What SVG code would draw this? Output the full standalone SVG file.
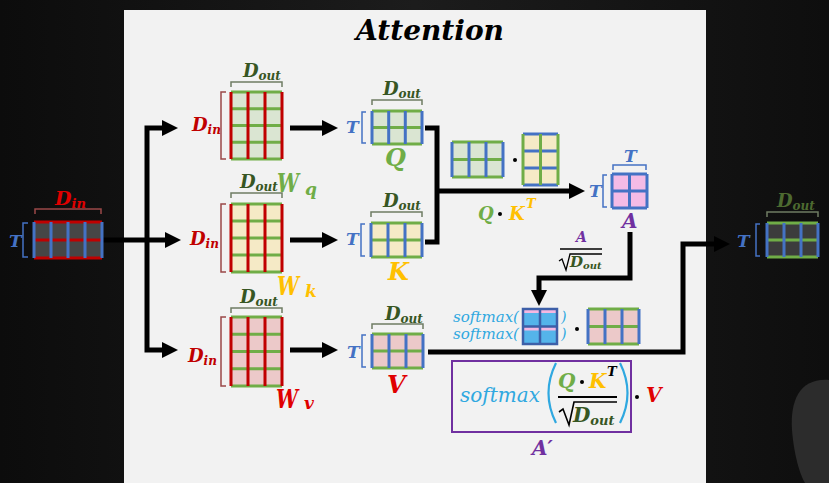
<svg xmlns="http://www.w3.org/2000/svg" width="829" height="483" viewBox="0 0 829 483">
<defs>
<linearGradient id="bg" x1="0" y1="0" x2="1" y2="0">
<stop offset="0" stop-color="#0c0c0c"/><stop offset="0.5" stop-color="#1c1c1c"/><stop offset="1" stop-color="#0e0e0e"/>
</linearGradient>
<marker id="ah" viewBox="0 0 16 16" markerWidth="16" markerHeight="16" refX="0" refY="8" orient="auto-start-reverse" markerUnits="userSpaceOnUse">
<path d="M0,0 L16,8 L0,16 z" fill="#000"/>
</marker>
<style>
.t{font-family:"DejaVu Serif","Liberation Serif",serif;font-weight:bold;font-style:italic}
.s{font-family:"DejaVu Serif","Liberation Serif",serif;font-style:italic;fill:#2fa8e0}
.conn{stroke:#000;stroke-width:5;fill:none;stroke-linejoin:miter}
.mg{fill:#dae5d2}.my{fill:#f5eac6}.mp{fill:#ecc9c9}.ma{fill:#f4bbe6}.md{fill:#464646}
.lr{stroke:#c00000;stroke-width:3;fill:none}
.lgn{stroke:#70ad47;stroke-width:3;fill:none}
.lb{stroke:#4472c4;stroke-width:3;fill:none}
.bo{stroke:#6f7c63;stroke-width:1.5;fill:none}
.bi{stroke:#9a4848;stroke-width:1.5;fill:none}
.bt{stroke:#4472c4;stroke-width:1.5;fill:none}
.red{fill:#c00000}.dg{fill:#375623}.blue{fill:#4472c4}.grn{fill:#70ad47}.yel{fill:#ffc000}.pur{fill:#7030a0}.vr{fill:#e00000}
</style>
</defs>
<rect x="0" y="0" width="829" height="483" fill="url(#bg)"/>
<path d="M829,380 C800,378 790,400 792,430 C794,455 800,475 805,483 L829,483 Z" fill="#2c2c2c"/>
<rect x="124" y="10" width="582" height="473" fill="#f2f2f2"/>
<text class="t" x="430" y="40" font-size="28" text-anchor="middle" fill="#000">Attention</text>

<g id="connectors">
<path class="conn" d="M103,240 H165" marker-end="url(#ah)"/>
<path class="conn" d="M162,128 H147 V350 H162" marker-start="url(#ah)" marker-end="url(#ah)"/>
<path class="conn" d="M290,128 H322" marker-end="url(#ah)"/>
<path class="conn" d="M290,240 H322" marker-end="url(#ah)"/>
<path class="conn" d="M290,350 H322" marker-end="url(#ah)"/>
<path class="conn" d="M425,128 H437 V242 H425"/>
<path class="conn" d="M437,191 H569" marker-end="url(#ah)"/>
<path class="conn" d="M630,232 V278 H539 V290" marker-end="url(#ah)"/>
<path class="conn" d="M428,352 H683 V244 H714" marker-end="url(#ah)"/>
</g>

<g id="input">
<rect x="34" y="222" width="68" height="36" class="md"/>
<path class="lr" stroke="#e00000" d="M34,222H102M34,240H102M34,258H102"/>
<path class="lb" stroke="#5080d0" d="M34,222V258M51,222V258M68,222V258M85,222V258M102,222V258"/>
<path class="bi" stroke="#d00000" d="M35,214V209H101V214"/>
<text class="t" x="55" y="205" font-size="19" fill="#e00000">D<tspan font-size="13" dy="3">in</tspan></text>
<path class="bt" d="M28,223H23V257H28"/>
<text class="t blue" x="9" y="247" font-size="17">T</text>
</g>

<g id="wq">
<rect x="231" y="92" width="51" height="67" class="mg"/>
<path class="lgn" d="M231,92H282M231,108.75H282M231,125.5H282M231,142.25H282M231,159H282"/>
<path class="lr" d="M231,92V159M248,92V159M265,92V159M282,92V159"/>
<path class="bo" d="M231,87V82H282V87"/>
<text class="t dg" x="243" y="77" font-size="18">D<tspan font-size="12" dy="3">out</tspan></text>
<path class="bi" d="M226,92H221V159H226"/>
<text class="t red" x="192" y="131" font-size="18">D<tspan font-size="12" dy="3">in</tspan></text>
<text class="t grn" x="277" y="192" font-size="26" textLength="22" lengthAdjust="spacingAndGlyphs">W</text>
<text class="t grn" x="305" y="195" font-size="17">q</text>
</g>

<g id="wk">
<rect x="231" y="204" width="51" height="68" class="my"/>
<path class="lgn" d="M231,204H282M231,221H282M231,238H282M231,255H282M231,272H282"/>
<path class="lr" d="M231,204V272M248,204V272M265,204V272M282,204V272"/>
<path class="bo" d="M231,198V193H282V198"/>
<text class="t dg" x="240" y="188" font-size="18">D<tspan font-size="12" dy="3">out</tspan></text>
<path class="bi" d="M226,204H221V272H226"/>
<text class="t red" x="190" y="245" font-size="18">D<tspan font-size="12" dy="3">in</tspan></text>
<text class="t yel" x="277" y="295" font-size="26" textLength="22" lengthAdjust="spacingAndGlyphs">W</text>
<text class="t yel" x="305" y="297" font-size="17">k</text>
</g>

<g id="wv">
<rect x="231" y="317" width="51" height="69" class="mp"/>
<path class="lgn" d="M231,317H282M231,334.25H282M231,351.5H282M231,368.75H282M231,386H282"/>
<path class="lr" d="M231,317V386M248,317V386M265,317V386M282,317V386"/>
<path class="bo" d="M231,313V308H282V313"/>
<text class="t dg" x="240" y="303" font-size="18">D<tspan font-size="12" dy="3">out</tspan></text>
<path class="bi" d="M226,317H221V386H226"/>
<text class="t red" x="188" y="362" font-size="18">D<tspan font-size="12" dy="3">in</tspan></text>
<text class="t vr" x="276" y="408" font-size="26" textLength="22" lengthAdjust="spacingAndGlyphs">W</text>
<text class="t vr" x="304" y="409" font-size="17">v</text>
</g>

<g id="q">
<rect x="372" y="111" width="50" height="33" class="mg"/>
<path class="lgn" d="M372,111H422M372,127.5H422M372,144H422"/>
<path class="lb" d="M372,111V144M388.7,111V144M405.3,111V144M422,111V144"/>
<path class="bo" d="M372,105V100H422V105"/>
<text class="t dg" x="383" y="95" font-size="18">D<tspan font-size="12" dy="3">out</tspan></text>
<path class="bt" d="M366,112H362V143H366"/>
<text class="t blue" x="346" y="133" font-size="17">T</text>
<text class="t grn" x="385" y="166" font-size="24">Q</text>
</g>

<g id="k">
<rect x="371" y="223" width="51" height="34" class="my"/>
<path class="lgn" d="M371,223H422M371,240H422M371,257H422"/>
<path class="lb" d="M371,223V257M388,223V257M405,223V257M422,223V257"/>
<path class="bo" d="M371,217V212H422V217"/>
<text class="t dg" x="383" y="207" font-size="18">D<tspan font-size="12" dy="3">out</tspan></text>
<path class="bt" d="M365,224H361V256H365"/>
<text class="t blue" x="346" y="245" font-size="17">T</text>
<text class="t yel" x="388" y="280" font-size="24">K</text>
</g>

<g id="v">
<rect x="372" y="334" width="51" height="34" class="mp"/>
<path class="lgn" d="M372,334H423M372,351H423M372,368H423"/>
<path class="lb" d="M372,334V368M389,334V368M406,334V368M423,334V368"/>
<path class="bo" d="M372,329V324H423V329"/>
<text class="t dg" x="385" y="320" font-size="18">D<tspan font-size="12" dy="3">out</tspan></text>
<path class="bt" d="M366,335H362V367H366"/>
<text class="t blue" x="347" y="358" font-size="17">T</text>
<text class="t vr" x="387" y="393" font-size="24">V</text>
</g>

<g id="qkt">
<rect x="452" y="142" width="51" height="35" class="mg"/>
<path class="lgn" d="M452,142H503M452,159.5H503M452,177H503"/>
<path class="lb" d="M452,142V177M469,142V177M486,142V177M503,142V177"/>
<circle cx="515" cy="160" r="2" fill="#000"/>
<rect x="523" y="134" width="35" height="51" class="my"/>
<path class="lb" d="M523,134H558M523,151H558M523,168H558M523,185H558"/>
<path class="lgn" d="M523,134V185M540.5,134V185M558,134V185"/>
<text class="t grn" x="478" y="220" font-size="18">Q</text>
<circle cx="500" cy="214" r="2" fill="#000"/>
<text class="t yel" x="509" y="220" font-size="18">K</text>
<text class="t yel" x="526" y="208" font-size="13">T</text>
</g>

<g id="a">
<rect x="612" y="174" width="35" height="34" class="ma"/>
<path class="lb" d="M612,174H647M612,191H647M612,208H647M612,174V208M629.5,174V208M647,174V208"/>
<path class="bt" d="M613,170V165H646V170"/>
<text class="t blue" x="624" y="162" font-size="17">T</text>
<path class="bt" d="M607,175H603V207H607"/>
<text class="t blue" x="589" y="197" font-size="17">T</text>
<text class="t pur" x="622" y="228" font-size="20">A</text>
</g>

<g id="scale">
<text class="t pur" x="576" y="242" font-size="14">A</text>
<line x1="560" y1="249" x2="602" y2="249" stroke="#000" stroke-width="1.5"/>
<path d="M559,261 L562,259 L566,270 L570,254 H602" stroke="#000" stroke-width="1.3" fill="none"/>
<text class="t dg" x="570" y="267" font-size="15">D<tspan font-size="10" dy="2">out</tspan></text>
</g>

<g id="softmaxrow">
<text class="s" x="453" y="322" font-size="14" textLength="66" lengthAdjust="spacingAndGlyphs">softmax(</text>
<text class="s" x="453" y="339" font-size="14" textLength="66" lengthAdjust="spacingAndGlyphs">softmax(</text>
<rect x="523" y="309" width="34" height="35" fill="#55b4ea"/>
<rect x="523" y="309" width="34" height="4" fill="#f4b8e2"/>
<rect x="523" y="326.5" width="34" height="4" fill="#f4b8e2"/>
<path d="M523,309H557V344H523ZM523,326.5H557M540,309V344" stroke="#3d5fa8" stroke-width="2.5" fill="none"/>
<text class="s" x="561" y="322" font-size="14">)</text>
<text class="s" x="561" y="339" font-size="14">)</text>
<circle cx="577" cy="329" r="2" fill="#000"/>
<rect x="588" y="309" width="51" height="35" class="mp"/>
<path class="lgn" d="M588,309H639M588,326.5H639M588,344H639"/>
<path class="lb" stroke="#5a6fa0" d="M588,309V344M605,309V344M622,309V344M639,309V344"/>
</g>

<g id="formula">
<rect x="452" y="361" width="179" height="71" fill="none" stroke="#7030a0" stroke-width="2"/>
<text class="s" x="460" y="402" font-size="21" textLength="80" lengthAdjust="spacingAndGlyphs">softmax</text>
<path d="M556,363 Q541,393 556,423" stroke="#2fa8e0" stroke-width="2.2" fill="none"/>
<path d="M620,363 Q635,393 620,423" stroke="#2fa8e0" stroke-width="2.2" fill="none"/>
<text class="t grn" x="558" y="388" font-size="20">Q</text>
<circle cx="582" cy="382" r="2" fill="#000"/>
<text class="t yel" x="589" y="388" font-size="20">K</text>
<text class="t" x="607" y="376" font-size="13" fill="#000">T</text>
<line x1="558" y1="397" x2="617" y2="397" stroke="#000" stroke-width="2"/>
<path d="M559,412 L563,409 L569,425 L574,402 H617" stroke="#000" stroke-width="1.6" fill="none"/>
<text class="t dg" x="573" y="422" font-size="20">D<tspan font-size="13" dy="3">out</tspan></text>
<circle cx="637" cy="397" r="2" fill="#000"/>
<text class="t vr" x="646" y="402" font-size="20">V</text>
<text class="t pur" x="532" y="455" font-size="20">A′</text>
</g>

<g id="output">
<rect x="767" y="223" width="51" height="34" fill="#3c3c3c"/>
<path class="lgn" d="M767,223H818M767,240H818M767,257H818"/>
<path class="lb" d="M767,223V257M784,223V257M801,223V257M818,223V257"/>
<path class="bo" stroke="#4a5a3a" d="M767,217V212H818V217"/>
<text class="t" fill="#4d6a30" x="777" y="207" font-size="18">D<tspan font-size="12" dy="3">out</tspan></text>
<path class="bt" d="M760,224H756V256H760"/>
<text class="t blue" x="737" y="247" font-size="17">T</text>
</g>
</svg>
